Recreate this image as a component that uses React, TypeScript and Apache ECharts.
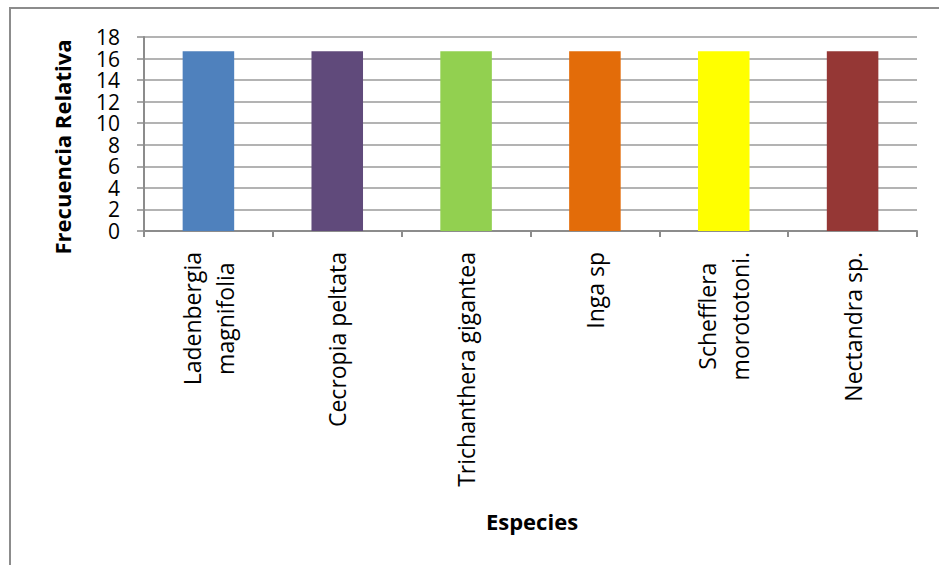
import React, { useEffect, useRef } from "react";
import * as echarts from "echarts";

const categories = [
  "Ladenbergia\nmagnifolia",
  "Cecropia peltata",
  "Trichanthera gigantea",
  "Inga sp",
  "Schefflera\nmorototoni.",
  "Nectandra sp.",
];
const values = [16.67, 16.67, 16.67, 16.67, 16.67, 16.67];
const barColors = ["#4F81BD", "#604A7B", "#92D050", "#E36C09", "#FFFF00", "#953735"];
const yTicks = { min: 0, max: 18, interval: 2 };
const yTitle = "Frecuencia Relativa";
const xTitle = "Especies";

export default function App() {
  const ref = useRef<HTMLDivElement>(null);
  useEffect(() => {
    if (!ref.current) return;
    const chart = echarts.init(ref.current, null, { renderer: "svg" });
    const font = "'Open Sans', 'Liberation Sans', sans-serif";
    chart.setOption({
      animation: false,
      backgroundColor: "#ffffff",
      grid: { left: 144, right: 22, top: 37, bottom: 334 },
      graphic: [
        {
          type: "rect",
          shape: { x: 10, y: 8, width: 960, height: 600 },
          style: { fill: "none", stroke: "#8c8c8c", lineWidth: 2 },
          silent: true,
        },
        {
          type: "text",
          x: 62,
          y: 147,
          rotation: Math.PI / 2,
          style: {
            text: yTitle,
            font: `bold 22px ${font}`,
            fill: "#000",
            align: "center",
            verticalAlign: "middle",
          },
        },
        {
          type: "text",
          x: 532,
          y: 521,
          style: {
            text: xTitle,
            font: `bold 22px ${font}`,
            fill: "#000",
            align: "center",
            verticalAlign: "middle",
          },
        },
      ],
      xAxis: {
        type: "category",
        data: categories,
        axisLine: { lineStyle: { color: "#8c8c8c", width: 2 } },
        axisTick: { show: true, length: 6, lineStyle: { color: "#8c8c8c", width: 2 } },
        axisLabel: {
          interval: 0,
          rotate: 90,
          margin: 21,
          fontFamily: font,
          fontSize: 23,
          lineHeight: 33,
          color: "#000",
          formatter: (v: string) =>
            v
              .split("\n")
              .map((s) => `{c|${s}}`)
              .join("\n"),
          rich: {
            c: {
              align: "center",
              fontFamily: font,
              fontSize: 23,
              lineHeight: 33,
              color: "#000",
            },
          },
        },
      },
      yAxis: {
        type: "value",
        min: yTicks.min,
        max: yTicks.max,
        interval: yTicks.interval,
        axisLine: { show: true, lineStyle: { color: "#8c8c8c", width: 2 } },
        axisTick: { show: true, length: 7, lineStyle: { color: "#8c8c8c", width: 1.5 } },
        splitLine: { lineStyle: { color: "#9a9a9a", width: 1.5 } },
        axisLabel: {
          margin: 24,
          fontFamily: font,
          fontSize: 21,
          lineHeight: 20,
          color: "#000",
          showMinLabel: true,
          showMaxLabel: true,
        },
      },
      series: [
        {
          type: "bar",
          barWidth: "40%",
          data: values.map((v, i) => ({ value: v, itemStyle: { color: barColors[i] } })),
        },
      ],
    });
    return () => chart.dispose();
  }, []);
  return (
    <div
      ref={ref}
      style={{ position: "fixed", left: 0, top: 0, width: 939, height: 565 }}
    />
  );
}
